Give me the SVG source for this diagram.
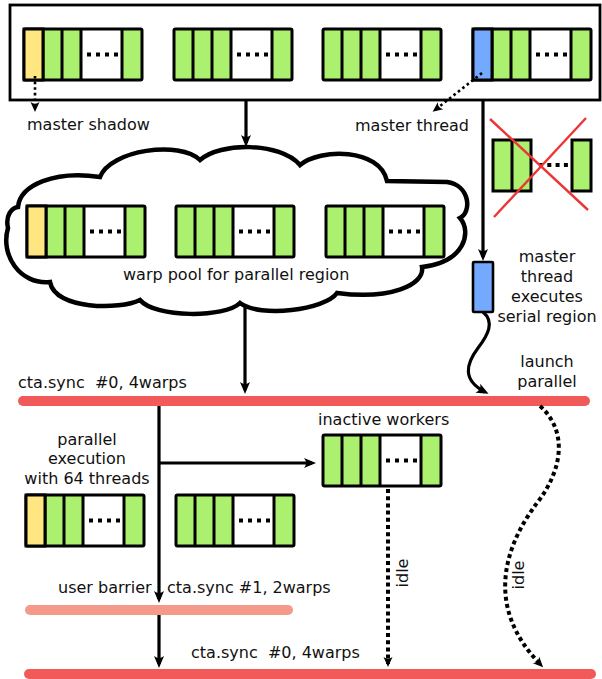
<svg xmlns="http://www.w3.org/2000/svg" xmlns:xlink="http://www.w3.org/1999/xlink" width="602" height="679" viewBox="0 0 602 679">
<style>
.t{font-family:"DejaVu Sans","Liberation Sans",sans-serif;font-size:16px;fill:#111}
.m{text-anchor:middle}
.ln{fill:none;stroke:#000;stroke-width:3.2}
.dot{fill:none;stroke:#000;stroke-width:4;stroke-dasharray:4 3.2}
.dots{fill:none;stroke:#000;stroke-width:2.6;stroke-dasharray:2.6 3}
.g{fill:#abf06f}
.cell{stroke:#000;stroke-width:3}
.bar{fill:none;stroke-width:10;stroke-linecap:round}
</style>
<defs>
<marker id="ah" viewBox="-13 -6 14 12" refX="-4" refY="0" markerWidth="14" markerHeight="12" markerUnits="userSpaceOnUse" orient="auto"><path d="M0,0 L-12,-5 Q-8,0 -12,5 Z" fill="#000"/></marker>
<marker id="ahs" viewBox="-11 -5 12 10" refX="-3" refY="0" markerWidth="12" markerHeight="10" markerUnits="userSpaceOnUse" orient="auto"><path d="M0,0 L-10,-4.5 Q-6.5,0 -10,4.5 Z" fill="#000"/></marker>
<g id="warp">
<rect x="0" y="0" width="118" height="51" fill="#fff"/>
<rect x="0" y="0" width="57" height="51" class="g"/>
<rect x="98" y="0" width="20" height="51" class="g"/>
<path d="M19,0V51M38,0V51M57,0V51M98,0V51" class="cell"/>
<rect x="0" y="0" width="118" height="51" rx="1.5" fill="none" class="cell"/>
<path d="M63,25.5H94" stroke="#000" stroke-width="4" stroke-dasharray="4 5"/>
</g>
</defs>
<rect width="602" height="679" fill="#fff"/>

<g id="top-block">
<rect x="10" y="5" width="590" height="95" fill="#fff" stroke="#000" stroke-width="2.8"/>
</g>
<g id="top-warp-1"><use xlink:href="#warp" x="24" y="29"/><rect x="24" y="29" width="19" height="51" fill="#ffe680" class="cell"/></g>
<g id="top-warp-2"><use xlink:href="#warp" x="174" y="29"/></g>
<g id="top-warp-3"><use xlink:href="#warp" x="323" y="29"/></g>
<g id="top-warp-4"><use xlink:href="#warp" x="473" y="29"/><rect x="473" y="29" width="19" height="51" fill="#73aaff" class="cell"/></g>

<g id="cloud">
<path d="M18,207 C20,185 55,170 100,177 C110,150 180,140 200,160 C220,142 280,142 300,165 C320,148 380,148 387,181 L447,182 C470,185 472,212 460,218 C472,232 465,262 422,267 C425,285 390,300 337,293 C325,310 260,318 240,303 C225,318 155,318 140,300 C120,310 55,310 50,282 C20,285 0,255 8,228 C5,215 12,208 18,207 Z" fill="#fff" stroke="#000" stroke-width="4.5" stroke-linejoin="miter"/>
<text class="t" x="123" y="280">warp pool for parallel region</text>
</g>
<g id="pool-warp-1"><use xlink:href="#warp" x="27" y="206"/><rect x="27" y="206" width="19" height="51" fill="#ffe680" class="cell"/></g>
<g id="pool-warp-2"><use xlink:href="#warp" x="176" y="206"/></g>
<g id="pool-warp-3"><use xlink:href="#warp" x="326" y="206"/></g>

<g id="discarded-warp">
<rect x="493" y="140" width="38" height="51" class="g"/>
<rect x="572" y="140" width="19" height="51" class="g"/>
<path d="M493,140H531V191H493Z M512,140V191 M572,140H591V191H572Z" fill="none" class="cell"/>
<path d="M539,165H568" stroke="#000" stroke-width="4" stroke-dasharray="4 4.3"/>
<path d="M490,119L588,210 M586,118L494,217" stroke="#ee3535" stroke-width="2.4"/>
</g>

<g id="serial-master">
<rect x="473" y="262" width="20" height="50" fill="#73aaff" stroke="#000" stroke-width="2.6" rx="1"/>
</g>

<g id="inactive-workers"><use xlink:href="#warp" x="323" y="435"/>
<text class="t" x="318" y="425">inactive workers</text></g>
<g id="exec-warp-1"><use xlink:href="#warp" x="26" y="495"/><rect x="26" y="495" width="19" height="51" fill="#ffe680" class="cell"/></g>
<g id="exec-warp-2"><use xlink:href="#warp" x="176" y="495"/></g>

<g id="bar-sync0-top"><path d="M23,401H585" class="bar" stroke="#f25a5a"/>
<text class="t" x="18" y="388" xml:space="preserve">cta.sync  #0, 4warps</text></g>
<g id="bar-user"><path d="M30,610H288" class="bar" stroke="#f59a8b"/>
<text class="t" x="58" y="593">user barrier</text>
<text class="t" x="167" y="593">cta.sync #1, 2warps</text></g>
<g id="bar-sync0-bottom"><path d="M29,674H591" class="bar" stroke="#f25a5a"/>
<text class="t" x="191" y="658" xml:space="preserve">cta.sync  #0, 4warps</text></g>

<g id="labels">
<text class="t" x="27" y="130">master shadow</text>
<text class="t" x="355" y="131">master thread</text>
<text class="t m" x="547" y="262">master</text>
<text class="t m" x="547" y="282">thread</text>
<text class="t m" x="547" y="302">executes</text>
<text class="t m" x="547" y="322">serial region</text>
<text class="t m" x="547" y="367">launch</text>
<text class="t m" x="547" y="387">parallel</text>
<text class="t m" x="87" y="445">parallel</text>
<text class="t m" x="87" y="464">execution</text>
<text class="t m" x="87" y="484">with 64 threads</text>
<text class="t m" transform="translate(408,573) rotate(-90)">idle</text>
<text class="t m" transform="translate(524,575) rotate(-90)">idle</text>
</g>

<g id="connectors">
<path d="M246,100V143" class="ln" marker-end="url(#ah)"/>
<path d="M245,305V390" class="ln" marker-end="url(#ah)"/>
<path d="M483,100V257" class="ln" marker-end="url(#ah)"/>
<path d="M483,312C495,322 488,335 478,348C466,364 462,380 485,392" class="ln" marker-end="url(#ah)"/>
<path d="M159,406V599" class="ln" marker-end="url(#ah)"/>
<path d="M159,615V664" class="ln" marker-end="url(#ah)"/>
<path d="M159,463H312" class="ln" marker-end="url(#ah)"/>
<path d="M388,489V664" class="dot" marker-end="url(#ahs)"/>
<path d="M540,406C567,430 564,468 537,503C507,543 482,605 541,665" class="dot" marker-end="url(#ahs)"/>
<path d="M35,76V109" class="dots" marker-end="url(#ahs)"/>
<path d="M482,73L435,110" class="dots" marker-end="url(#ahs)"/>
</g>
</svg>
